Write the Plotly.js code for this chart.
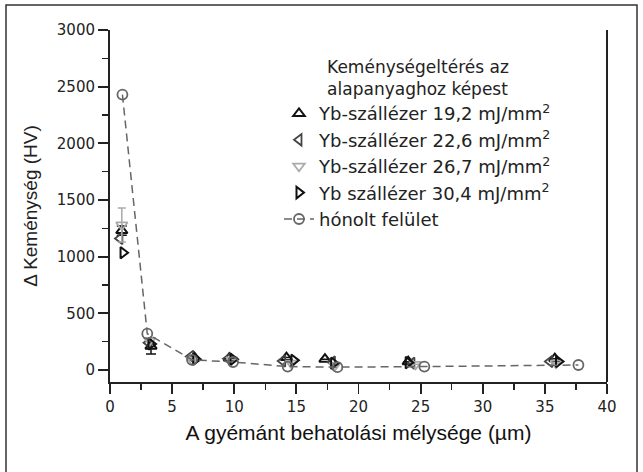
<!DOCTYPE html>
<html>
<head>
<meta charset="utf-8">
<script src="https://cdn.plot.ly/plotly-3.0.1.min.js"></script>
<style>html,body{margin:0;padding:0;background:#fff;}#chart{width:643px;height:472px;}</style>
</head>
<body>
<div id="chart"></div>
<script>
// ---- data ----
const seriesNames = [
  "Yb-szállézer 19,2 mJ/mm<sup>2</sup>",
  "Yb-szállézer 22,6 mJ/mm<sup>2</sup>",
  "Yb-szállézer 26,7 mJ/mm<sup>2</sup>",
  "Yb szállézer 30,4 mJ/mm<sup>2</sup>",
  "hónolt felület"
];
const legendTitle = "Keménységeltérés az<br>alapanyaghoz képest";
const xTitle = "A gyémánt behatolási mélysége (µm)";
const yTitle = "Δ Keménység (HV)";

const x192 = [0.95, 3.3, 6.8, 9.6, 14.2, 17.3, 24.0, 35.8];
const y192 = [1230, 210, 110, 105, 110, 95, 73, 100];
const e192 = [40, 70, 0, 0, 0, 0, 0, 0];

const x226 = [0.8, 3.1, 6.5, 9.5, 13.9, 17.9, 24.3, 35.4];
const y226 = [1160, 240, 120, 100, 80, 70, 60, 75];

const x267 = [0.95, 3.2, 6.6, 9.8, 14.6, 18.1, 24.6, 35.9];
const y267 = [1280, 260, 90, 90, 60, 40, 50, 60];
const e267 = [150, 0, 0, 0, 0, 0, 0, 0];

const x304 = [1.05, 3.3, 6.9, 9.9, 14.8, 18.0, 24.0, 36.1];
const y304 = [1035, 230, 95, 95, 85, 60, 65, 75];

const xHon = [1.0, 3.0, 6.6, 9.9, 14.3, 18.3, 25.3, 37.7];
const yHon = [2430, 320, 90, 70, 30, 25, 30, 44];

const xRange = [0, 40];
const yRange = [-106, 3000];

// ---- chart ----
const axisColor = "#222";
const traces = [
  {x: x192, y: y192, name: seriesNames[0], type: "scatter", mode: "markers",
   marker: {symbol: "triangle-up-open", size: 10, color: "#111", line: {width: 2, color: "#111"}},
   error_y: {type: "data", array: e192, visible: true, color: "#111", thickness: 1.5, width: 5}},
  {x: x226, y: y226, name: seriesNames[1], type: "scatter", mode: "markers",
   marker: {symbol: "triangle-left-open", size: 10, color: "#444", line: {width: 1.8, color: "#444"}}},
  {x: x267, y: y267, name: seriesNames[2], type: "scatter", mode: "markers",
   marker: {symbol: "triangle-down-open", size: 10, color: "#aaa", line: {width: 1.8, color: "#aaa"}},
   error_y: {type: "data", array: e267, visible: true, color: "#aaa", thickness: 1.5, width: 4}},
  {x: x304, y: y304, name: seriesNames[3], type: "scatter", mode: "markers",
   marker: {symbol: "triangle-right-open", size: 10, color: "#111", line: {width: 2, color: "#111"}}},
  {x: xHon, y: yHon, name: seriesNames[4], type: "scatter", mode: "lines+markers",
   line: {color: "#666", width: 1.5, dash: "8px,5px"},
   marker: {symbol: "circle-open", size: 10, color: "#666", line: {width: 1.8, color: "#666"}}}
];

const W = 497, H = 352; // plot area px
function px2paperX(p) { return (p - 110) / W; }
function px2paperY(p) { return (382 - p) / H; }

const layout = {
  width: 643, height: 472,
  margin: {l: 110, r: 36, t: 30, b: 90},
  paper_bgcolor: "#fff", plot_bgcolor: "#fff",
  font: {family: "Liberation Sans, Arial, sans-serif", color: "#222"},
  showlegend: true,
  legend: {
    x: px2paperX(279), y: px2paperY(51), xanchor: "left", yanchor: "top",
    bgcolor: "rgba(0,0,0,0)", borderwidth: 0,
    font: {family: "DejaVu Sans", size: 18, color: "#222"},
    title: {text: legendTitle, side: "top center", font: {family: "DejaVu Sans", size: 17, color: "#222"}},
    itemclick: false
  },
  xaxis: {
    range: xRange, showgrid: false, zeroline: false,
    showline: true, linecolor: axisColor, linewidth: 2,
    ticks: "outside", ticklen: 10, tickwidth: 1.8, tickcolor: axisColor,
    dtick: 5, tick0: 0,
    minor: {ticks: "outside", ticklen: 6, tickwidth: 1.5, tickcolor: axisColor, dtick: 2.5, showgrid: false},
    tickfont: {family: "DejaVu Sans", size: 15, color: "#222"},
    title: {text: xTitle, standoff: 10, font: {family: "Liberation Sans, Arial", size: 21, color: "#111"}}
  },
  yaxis: {
    range: yRange, showgrid: false, zeroline: false,
    showline: true, linecolor: axisColor, linewidth: 2,
    ticks: "outside", ticklen: 10, tickwidth: 1.8, tickcolor: axisColor,
    dtick: 500, tick0: 0,
    minor: {ticks: "outside", ticklen: 6, tickwidth: 1.5, tickcolor: axisColor, dtick: 250, showgrid: false},
    tickfont: {family: "DejaVu Sans", size: 15, color: "#222"},
    title: {text: yTitle, standoff: 14, font: {family: "Liberation Sans, Arial", size: 19, color: "#222"}}
  },
  shapes: [
    {type: "line", xref: "paper", yref: "paper", x0: 1, x1: 1, y0: 0, y1: 1,
     line: {color: axisColor, width: 2}},
    {type: "rect", xref: "paper", yref: "paper",
     x0: px2paperX(6), x1: px2paperX(637), y0: px2paperY(475), y1: px2paperY(5),
     line: {color: "#333", width: 1.5}, fillcolor: "rgba(0,0,0,0)"}
  ]
};

Plotly.newPlot("chart", traces, layout, {displayModeBar: false, staticPlot: true});
</script>
</body>
</html>
